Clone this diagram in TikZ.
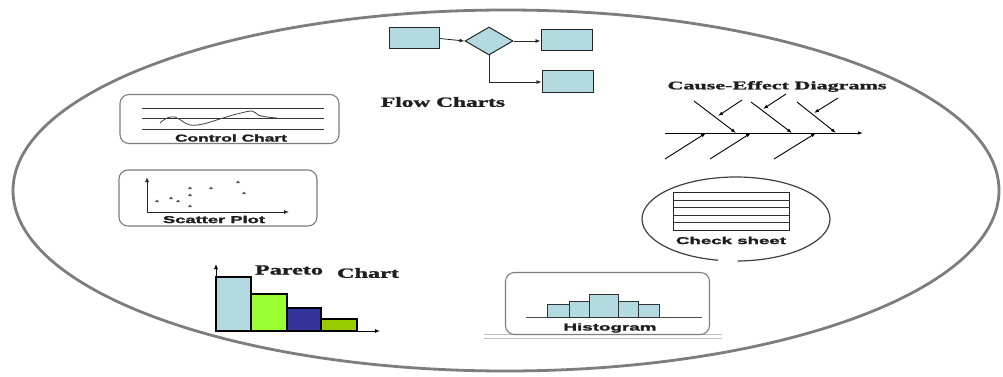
\documentclass[tikz,border=0pt]{standalone}
\usepackage{fontspec}
\setmainfont{Liberation Serif}[BoldFeatures={FakeBold=1.2}]
\setsansfont{Liberation Sans}[BoldFeatures={FakeBold=1.6}]
\usetikzlibrary{arrows.meta,shapes.geometric}
\definecolor{fcblue}{RGB}{178,218,224}
\definecolor{pgreen}{RGB}{153,255,51}
\definecolor{pnavy}{RGB}{51,51,153}
\definecolor{polive}{RGB}{153,204,0}
\definecolor{edgegray}{RGB}{125,125,125}
\definecolor{textdark}{RGB}{30,30,30}
\newcommand\fitw[2]{\resizebox{#1}{\height}{#2}}
\begin{document}
\begin{tikzpicture}[x=1pt,y=-1pt,
  fcbox/.style={draw=black!85, line width=1pt, fill=fcblue, inner sep=0pt},
  arr/.style={-{Latex[length=5pt,width=4pt]}, line width=0.8pt, black!85},
  bone/.style={-{Latex[length=5pt,width=3.5pt]}, line width=0.9pt, black},
  panel/.style={draw=edgegray, line width=1.1pt, rounded corners=9pt, inner sep=0pt},
  serifl/.style={font=\bfseries\fontsize{14}{14}\selectfont, text=textdark, inner sep=0pt},
  sansl/.style={font=\sffamily\bfseries\fontsize{10}{10}\selectfont, text=textdark, inner sep=0pt},
  grid/.style={line width=0.9pt, black!80},
  bar/.style={draw=black, line width=1.1pt}
]
\useasboundingbox (0,0) rectangle (1003,377);
\fill[white] (0,0) rectangle (1003,377);

% big ellipse
\draw[edgegray, line width=2.8pt] (506,190.5) ellipse [x radius=493, y radius=180.5];

% ---------- Flow charts ----------
\node[fcbox, minimum width=50pt, minimum height=21pt] (fb1) at (414,38.5) {};
\node[fcbox, diamond, aspect=1.7, minimum width=48pt, minimum height=28pt] (fd) at (489,41) {};
\node[fcbox, minimum width=51pt, minimum height=21pt] (fb2) at (566.5,40.5) {};
\node[fcbox, minimum width=51pt, minimum height=22pt] (fb3) at (567.5,82) {};
\draw[arr] (fb1.east) -- (fd.west);
\draw[arr] (fd.east) -- (fd.east -| fb2.west);
\draw[arr] (fd.south) |- (fb3.west);
\node[serifl] (flowt) at (443,102) {\fitw{124pt}{Flow Charts}};

% ---------- Cause-effect ----------
\node[serifl, font=\bfseries\fontsize{11.5}{11.5}\selectfont] (cet) at (777,86.5) {\fitw{219pt}{Cause-Effect Diagrams}};
\coordinate (sp0) at (665,133); \coordinate (sp1) at (863,133);
\draw[bone] (sp0) -- (sp1);
\coordinate (u1a) at (694,101); \coordinate (u1b) at (736,133);
\coordinate (u2a) at (751,102); \coordinate (u2b) at (792,133);
\coordinate (u3a) at (797,102); \coordinate (u3b) at (836,133);
\draw[bone] (u1a) -- (u1b);
\draw[bone] (u2a) -- (u2b);
\draw[bone] (u3a) -- (u3b);
\coordinate (s1a) at (742,100); \coordinate (s1b) at (718,116);
\coordinate (s2a) at (786,94);  \coordinate (s2b) at (763,109);
\coordinate (s3a) at (838,98);  \coordinate (s3b) at (814,113);
\draw[bone] (s1a) -- (s1b);
\draw[bone] (s2a) -- (s2b);
\draw[bone] (s3a) -- (s3b);
\coordinate (l1a) at (665,159); \coordinate (l1b) at (706,133);
\coordinate (l2a) at (710,159); \coordinate (l2b) at (751,133);
\coordinate (l3a) at (774,159); \coordinate (l3b) at (816,133);
\draw[bone] (l1a) -- (l1b);
\draw[bone] (l2a) -- (l2b);
\draw[bone] (l3a) -- (l3b);

% ---------- Control chart ----------
\node[panel, minimum width=219pt, minimum height=49pt] (ccp) at (229.5,119) {};
\draw[grid] (142,108) -- (324,108);
\draw[grid] (142,118.5) -- (324,118.5);
\draw[grid] (142,129) -- (324,129);
\draw[black!75, line width=0.8pt] plot[smooth, tension=0.6] coordinates {(160,123) (167,118) (175,117) (182,121) (190,125) (203,124) (223,118) (237,114) (252,111) (258,115) (267,117) (277,118)};
\node[sansl] (cct) at (231,138) {\fitw{112pt}{Control Chart}};

% ---------- Scatter plot ----------
\node[panel, minimum width=198pt, minimum height=56pt] (scp) at (218,198) {};
\coordinate (sco) at (147,212);
\coordinate (scy) at (147,177);
\coordinate (scx) at (289,212);
\draw[arr, line width=0.9pt] (sco) -- (scy);
\draw[arr, line width=0.9pt] (sco) -- (scx);
\foreach \px/\py in {157/201,171/198,178/201,190/188,190/195,190/206,211/188,238/182,244/193}
  \fill[black!65] (\px-2.2,\py+1.2) -- (\px,\py-1.4) -- (\px+2.2,\py+1.2) -- cycle;
\node[sansl] (sct) at (214,219.5) {\fitw{102pt}{Scatter Plot}};

% ---------- Check sheet ----------
\draw[black!75, line width=1.2pt] ([shift={(101:94 and 42)}]736,219) arc[start angle=101, end angle=449, x radius=94, y radius=42];
\node[draw=black!85, line width=1pt, minimum width=116pt, minimum height=38pt, inner sep=0pt] (chk) at (731,211) {};
\foreach \yy in {200,207.5,215,222.5}
  \draw[grid] (chk.west |- 0,\yy) -- (chk.east |- 0,\yy);
\node[sansl] (cht) at (731,240.5) {\fitw{110pt}{Check sheet}};

% ---------- Pareto ----------
\coordinate (po) at (216,331);
\draw[bar, fill=fcblue] (216,331) rectangle (251,277);
\draw[bar, fill=pgreen] (251,331) rectangle (287,294);
\draw[bar, fill=pnavy] (287,331) rectangle (321,308);
\draw[bar, fill=polive] (321,331) rectangle (357,319);
\coordinate (py) at (216,264);
\coordinate (px) at (380,331);
\draw[arr, black, line width=1pt] (po) -- (py);
\draw[arr, black, line width=1pt] (po) -- (px);
\node[serifl] (pt1) at (289,270) {\fitw{68pt}{Pareto}};
\node[serifl] (pt2) at (368,273) {\fitw{62pt}{Chart}};

% ---------- Histogram ----------
\draw[black!25, line width=1pt] (484,334) -- (722,334);
\draw[black!25, line width=1pt] (484,338) -- (722,338);
\node[panel, minimum width=204pt, minimum height=62pt] (hgp) at (607.5,303.5) {};
\draw[black!70, line width=1pt] (526,317) -- (702,317);
\foreach \xa/\xb/\yt in {547/569/304,569/589/301,589/618/294,618/638/301,638/659/304}
  \draw[line width=1pt, draw=black!80, fill=fcblue] (\xa,317) rectangle (\xb,\yt);
\node[sansl] (hgt) at (610,328) {\fitw{93pt}{Histogram}};
\end{tikzpicture}
\end{document}
